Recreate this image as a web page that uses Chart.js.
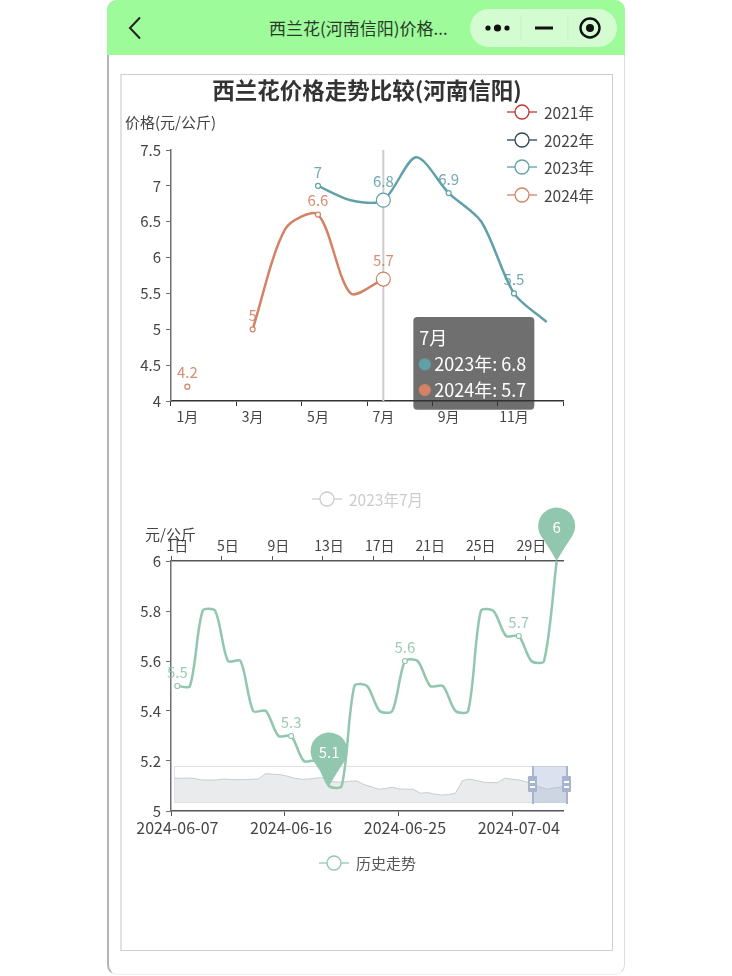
<!DOCTYPE html>
<html lang="zh-CN">
<head>
<meta charset="utf-8">
<title>西兰花价格走势比较</title>
<script src="https://cdn.jsdelivr.net/npm/chart.js@4/dist/chart.umd.min.js"></script>
<style>
  html, body { margin: 0; padding: 0; background: #fff; width: 732px; height: 976px; overflow: hidden; }
  body { font-family: "Noto Sans CJK SC", "Noto Sans", sans-serif; color: #444; position: relative; }
  .abs { position: absolute; }
  #phone { left: 107px; top: 0; width: 518px; height: 975px; box-sizing: border-box; background: #fff;
           border-left: 2px solid #b4b4b4; border-right: 1px solid #ddd; border-bottom: 1px solid #eee;
           border-radius: 10px; }
  #header { left: 107px; top: 0; width: 518px; height: 55px; background: #9dfb9a; border-radius: 10px 10px 0 0; }
  #pageTitle { left: 269px; top: 16px; font-size: 17px; line-height: 24px; color: #2a3a2a; white-space: nowrap; }
  #capsule { left: 470px; top: 9px; width: 147px; height: 38px; border-radius: 19px; background: #d3fcd1; }
  #box { left: 120px; top: 74px; width: 493px; height: 877px; box-sizing: border-box; border: 1px solid #cfcfcf; border-left: 2px solid #e2e2e2; }
  #mainTitle { left: 121px; width: 492px; top: 73px; text-align: center; font-size: 22.5px; line-height: 32px; font-weight: 700; color: #333; white-space: nowrap; }
  .axisName { font-size: 15px; line-height: 18px; color: #444; white-space: nowrap; }
  .legend { display: flex; align-items: center; font-size: 15.5px; line-height: 18px; white-space: nowrap; height: 18px; }
  .legend svg { margin-right: 7px; }
  canvas { position: absolute; display: block; }
  #chart1 { left: 122px; top: 75px; }
  #chart2 { left: 122px; top: 495px; }
  #overview { left: 174px; top: 766px; }
  #sliderBox { left: 174px; top: 766px; width: 394px; height: 37px; box-sizing: border-box; border: 1px solid #e0e2e4; }
  #sliderWin { left: 533px; top: 766px; width: 34px; height: 37px; background: rgba(160,175,210,.38); }
  .sliderEdge { top: 766px; width: 2px; height: 38px; background: #a7b4d0; }
  .sliderHandle { top: 776px; width: 9px; height: 16px; background: #a7b4d0; border-radius: 1px; }
  .sliderHandle::before, .sliderHandle::after { content: ""; position: absolute; left: 2px; width: 5px; height: 1.5px; background: #fff; }
  .sliderHandle::before { top: 5px; } .sliderHandle::after { top: 10px; }
</style>
</head>
<body>
<div id="phone" class="abs"></div>
<div id="header" class="abs"></div>
<svg class="abs" style="left:125px;top:14px" width="22" height="28"><polyline points="15,3.5 5,14 15,24.5" fill="none" stroke="#222" stroke-width="2"/></svg>
<div id="pageTitle" class="abs">西兰花(河南信阳)价格...</div>
<div id="capsule" class="abs"></div>
<svg class="abs" style="left:470px;top:9px" width="147" height="38">
  <circle cx="18" cy="19" r="2.6" fill="#111"/><circle cx="27.5" cy="19" r="3.6" fill="#111"/><circle cx="37" cy="19" r="2.6" fill="#111"/>
  <line x1="51" y1="6" x2="51" y2="32" stroke="#c6f3c4"/><line x1="98" y1="6" x2="98" y2="32" stroke="#c6f3c4"/>
  <line x1="65" y1="19" x2="83" y2="19" stroke="#111" stroke-width="3"/>
  <circle cx="120" cy="19" r="9.5" fill="none" stroke="#111" stroke-width="2.4"/><circle cx="120" cy="19" r="4" fill="#111"/>
</svg>
<div id="box" class="abs"></div>

<canvas id="overview" width="394" height="37"></canvas>
<div id="sliderBox" class="abs"></div>
<div id="sliderWin" class="abs"></div>
<div class="abs sliderEdge" style="left:532px"></div>
<div class="abs sliderEdge" style="left:566px"></div>
<div class="abs sliderHandle" style="left:528px"></div>
<div class="abs sliderHandle" style="left:562px"></div>

<canvas id="chart1" width="490" height="420"></canvas>
<canvas id="chart2" width="490" height="385"></canvas>

<div id="mainTitle" class="abs">西兰花价格走势比较(河南信阳)</div>
<div class="abs axisName" style="left:125px;top:113px">价格(元/公斤)</div>
<div class="abs axisName" style="left:145px;top:525px">元/公斤</div>
<div id="legends"></div>

<script>
// 上图：各年份月度价格
const months = ['1月', '2月', '3月', '4月', '5月', '6月', '7月', '8月', '9月', '10月', '11月', '12月'];
const series2021 = [null, null, null, null, null, null, null, null, null, null, null, null];
const series2022 = [null, null, null, null, null, null, null, null, null, null, null, null];
const series2023 = [null, null, null, null, 7, 6.8, 6.8, 7.4, 6.9, 6.5, 5.5, 5.1];
const series2024 = [4.2, null, 5, 6.4, 6.6, 5.5, 5.7, null, null, null, null, null];
const yearNames = ['2021年', '2022年', '2023年', '2024年'];
const yearColors = ['#c23531', '#2f4554', '#61a0a8', '#d48265'];
const hoverMonth = 6;

// 下图：2023年7月 / 历史走势
const days = ['1日', '2日', '3日', '4日', '5日', '6日', '7日', '8日', '9日', '10日', '11日', '12日', '13日', '14日', '15日', '16日',
    '17日', '18日', '19日', '20日', '21日', '22日', '23日', '24日', '25日', '26日', '27日', '28日', '29日', '30日', '31日'];
const dates = ['2024-06-07', '2024-06-08', '2024-06-09', '2024-06-10', '2024-06-11', '2024-06-12', '2024-06-13', '2024-06-14',
    '2024-06-15', '2024-06-16', '2024-06-17', '2024-06-18', '2024-06-19', '2024-06-20', '2024-06-21', '2024-06-22', '2024-06-23',
    '2024-06-24', '2024-06-25', '2024-06-26', '2024-06-27', '2024-06-28', '2024-06-29', '2024-06-30', '2024-07-01', '2024-07-02',
    '2024-07-03', '2024-07-04', '2024-07-05', '2024-07-06', '2024-07-07'];
const historyPrices = [5.5, 5.5, 5.8, 5.8, 5.6, 5.6, 5.4, 5.4, 5.3, 5.3, 5.2, 5.2, 5.1, 5.1, 5.5, 5.5,
    5.4, 5.4, 5.6, 5.6, 5.5, 5.5, 5.4, 5.4, 5.8, 5.8, 5.7, 5.7, 5.6, 5.6, 6];
const historyColor = '#91c7ae';
const pinIndexes = [12, 30];

// 缩略轴里的全量走势
const overviewPrices = [5.24, 5.24, 5.25, 5.22, 5.15, 5.15, 5.15, 5.20, 5.17, 5.17, 5.17, 5.19, 5.20, 5.47, 5.44, 5.42, 5.35, 5.25, 5.19,
    5.19, 5.24, 5.27, 5.12, 5.05, 5.05, 5.09, 5.10, 4.92, 4.82, 4.69, 4.72, 4.79, 4.70, 4.69, 4.69, 4.49, 4.52, 4.45, 4.40, 4.42, 4.49,
    5.12, 5.19, 5.12, 5.04, 5.02, 5.02, 5.24, 5.19, 5.15, 5.07, 4.94, 4.79, 4.69, 4.75, 4.79, 4.85];

const FONT = '"Noto Sans CJK SC", "Noto Sans", sans-serif';
const TEXT_COLOR = '#444';
Chart.defaults.animation = false;
Chart.defaults.responsive = false;
Chart.defaults.font.family = FONT;

// 图例（线 + 空心圆）
function addLegend(name, color, left, top, textColor, fontSize) {
    const el = document.createElement('div');
    el.className = 'abs legend';
    el.style.left = left + 'px';
    el.style.top = top + 'px';
    el.style.color = textColor;
    if (fontSize) el.style.fontSize = fontSize + 'px';
    el.innerHTML = `<svg width="30" height="16"><line x1="0" y1="8" x2="30" y2="8" stroke="${color}" stroke-width="1.3"/>` +
        `<circle cx="15" cy="8" r="7" fill="#fff" stroke="${color}" stroke-width="1.3"/></svg>${name}`;
    document.getElementById('legends').appendChild(el);
}
yearNames.forEach((name, i) => addLegend(name, yearColors[i], 507, [103, 131, 158, 186][i], TEXT_COLOR));
addLegend('2023年7月', '#ccc', 312, 490, '#ccc');
addLegend('历史走势', historyColor, 319, 854, '#555', 15);

// 每隔 n 个类目显示一次的刻度线颜色
function everyTick(n, color, showLast) {
    return ctx => {
        if (ctx.index === undefined) return showLast ? color : 'transparent';
        return ctx.index % n === 0 ? color : 'transparent';
    };
}

function categoryAxis(labels, step, position, height, color, showLast, fontSize) {
    return {
        type: 'category',
        labels: labels,
        position: position,
        offset: true,
        border: { color: color, width: 1.5 },
        grid: { offset: true, drawOnChartArea: false, tickLength: 5, tickColor: everyTick(step, color, showLast) },
        ticks: {
            autoSkip: false, maxRotation: 0, minRotation: 0, color: TEXT_COLOR, padding: 2,
            font: { size: fontSize },
            callback: (value, i) => (i % step === 0 ? labels[i] : '')
        },
        afterFit(scale) {
            scale.height = height;
            scale.paddingLeft = 0;
            scale.paddingRight = 0;
        }
    };
}

function valueAxis(min, max, stepSize, width) {
    return {
        min: min,
        max: max,
        border: { color: '#6e7079', width: 1.5 },
        grid: { drawOnChartArea: false, tickLength: 5, tickColor: '#6e7079' },
        ticks: { stepSize: stepSize, color: TEXT_COLOR, padding: 5, font: { size: 15 }, callback: value => String(value) },
        afterFit(scale) {
            scale.width = width;
            scale.paddingTop = 0;
            scale.paddingBottom = 0;
        }
    };
}

function lineDataset(label, data, color, radiusFn) {
    return {
        label: label,
        data: data,
        borderColor: color,
        backgroundColor: color,
        borderWidth: 2.5,
        tension: 0.28,
        spanGaps: false,
        clip: false,
        pointBackgroundColor: '#fff',
        pointBorderColor: color,
        pointBorderWidth: 1.2,
        pointRadius: radiusFn,
        pointHoverRadius: radiusFn
    };
}

// 数值标注
function drawValueLabels(chart, shouldLabel, offsetFn) {
    const { ctx } = chart;
    ctx.save();
    ctx.font = '15px ' + FONT;
    ctx.textAlign = 'center';
    ctx.textBaseline = 'middle';
    chart.data.datasets.forEach((ds, di) => {
        chart.getDatasetMeta(di).data.forEach((pt, i) => {
            if (ds.data[i] === null || !shouldLabel(i)) return;
            ctx.fillStyle = ds.borderColor;
            ctx.globalAlpha = 0.9;
            ctx.fillText(String(ds.data[i]), pt.x, pt.y - offsetFn(i));
        });
    });
    ctx.restore();
}

const chart1Plugin = {
    id: 'chart1Extras',
    beforeDatasetsDraw(chart) {
        const x = chart.scales.x.getPixelForValue(hoverMonth);
        const { ctx, chartArea } = chart;
        ctx.save();
        ctx.strokeStyle = '#ccc';
        ctx.lineWidth = 2;
        ctx.beginPath();
        ctx.moveTo(x, chartArea.top);
        ctx.lineTo(x, chartArea.bottom);
        ctx.stroke();
        ctx.restore();
    },
    afterDatasetsDraw(chart) {
        drawValueLabels(chart, i => i % 2 === 0, i => (i === hoverMonth ? 19 : 14));
    }
};

Chart.Tooltip.positioners.besideLine = function (items) {
    if (!items.length) return false;
    return { x: items[0].element.x + 34, y: this.chart.chartArea.bottom - 84 };
};

const monthRadius = ctx => (ctx.dataIndex === hoverMonth ? 7 : (ctx.dataIndex % 2 === 0 ? 2.5 : 0));

const chart1 = new Chart(document.getElementById('chart1'), {
    type: 'line',
    data: {
        labels: months,
        datasets: [series2021, series2022, series2023, series2024].map((data, i) =>
            lineDataset(yearNames[i], data, yearColors[i], monthRadius))
    },
    plugins: [chart1Plugin],
    options: {
        events: [],
        layout: { padding: { top: 75, right: 49, left: 0, bottom: 0 } },
        scales: {
            x: categoryAxis(months, 2, 'bottom', 94, '#333', true, 14),
            y: valueAxis(4, 7.5, 0.5, 49)
        },
        plugins: {
            legend: { display: false },
            title: { display: false },
            tooltip: {
                enabled: true,
                position: 'besideLine',
                xAlign: 'left',
                yAlign: 'top',
                caretSize: 0,
                caretPadding: 0,
                cornerRadius: 4,
                backgroundColor: 'rgba(50,50,50,0.7)',
                padding: { top: 10, bottom: 9, left: 6, right: 8 },
                titleFont: { size: 18, weight: 'normal', family: FONT },
                bodyFont: { size: 18, family: FONT },
                titleMarginBottom: 5,
                bodySpacing: 4,
                boxWidth: 11,
                boxHeight: 11,
                boxPadding: 2,
                usePointStyle: true,
                multiKeyBackground: 'transparent',
                callbacks: {
                    labelColor: item => ({ borderColor: item.dataset.borderColor, backgroundColor: item.dataset.borderColor }),
                    labelPointStyle: () => ({ pointStyle: 'circle', rotation: 0 })
                }
            }
        }
    }
});
chart1.tooltip.setActiveElements([{ datasetIndex: 2, index: hoverMonth }, { datasetIndex: 3, index: hoverMonth }], { x: 0, y: 0 });
chart1.draw();

// 水滴形标记
function drawPin(ctx, x, y, value, color) {
    const r = 18.5, cy = y - 35;
    ctx.save();
    ctx.fillStyle = color;
    ctx.beginPath();
    ctx.arc(x, cy, r, Math.PI * 0.82, Math.PI * 0.18);
    ctx.quadraticCurveTo(x + 6, cy + 24, x, y);
    ctx.quadraticCurveTo(x - 6, cy + 24, x - r * Math.cos(Math.PI * 0.18), cy + r * Math.sin(Math.PI * 0.18));
    ctx.closePath();
    ctx.fill();
    ctx.fillStyle = '#fff';
    ctx.font = '15px ' + FONT;
    ctx.textAlign = 'center';
    ctx.textBaseline = 'middle';
    ctx.fillText(String(value), x, cy + 1);
    ctx.restore();
}

const chart2Plugin = {
    id: 'chart2Extras',
    afterDatasetsDraw(chart) {
        drawValueLabels(chart, i => i % 9 === 0, () => 14);
        const meta = chart.getDatasetMeta(0);
        pinIndexes.forEach(i => drawPin(chart.ctx, meta.data[i].x, meta.data[i].y, historyPrices[i], historyColor));
    }
};

new Chart(document.getElementById('chart2'), {
    type: 'line',
    data: {
        labels: dates,
        datasets: [lineDataset('历史走势', historyPrices, historyColor, ctx => (ctx.dataIndex % 9 === 0 ? 2.5 : 0))]
    },
    plugins: [chart2Plugin],
    options: {
        events: [],
        layout: { padding: { right: 49, left: 0, top: 0, bottom: 0 } },
        scales: {
            x: categoryAxis(dates, 9, 'bottom', 69, '#555', false, 16),
            xTop: categoryAxis(days, 4, 'top', 66, '#555', false, 14),
            y: valueAxis(5, 6, 0.2, 49)
        },
        plugins: { legend: { display: false }, tooltip: { enabled: false } }
    }
});

// dataZoom 缩略图
new Chart(document.getElementById('overview'), {
    type: 'line',
    data: {
        labels: overviewPrices.map((_, i) => i),
        datasets: [{
            data: overviewPrices,
            borderColor: '#c9cccf',
            borderWidth: 1,
            backgroundColor: '#e9ebec',
            fill: 'origin',
            pointRadius: 0,
            tension: 0
        }]
    },
    options: {
        events: [],
        layout: { padding: 0 },
        scales: {
            x: { display: false, offset: false },
            y: { display: false, min: 4, max: 5.85 }
        },
        plugins: { legend: { display: false }, tooltip: { enabled: false } }
    }
});
</script>
</body>
</html>
